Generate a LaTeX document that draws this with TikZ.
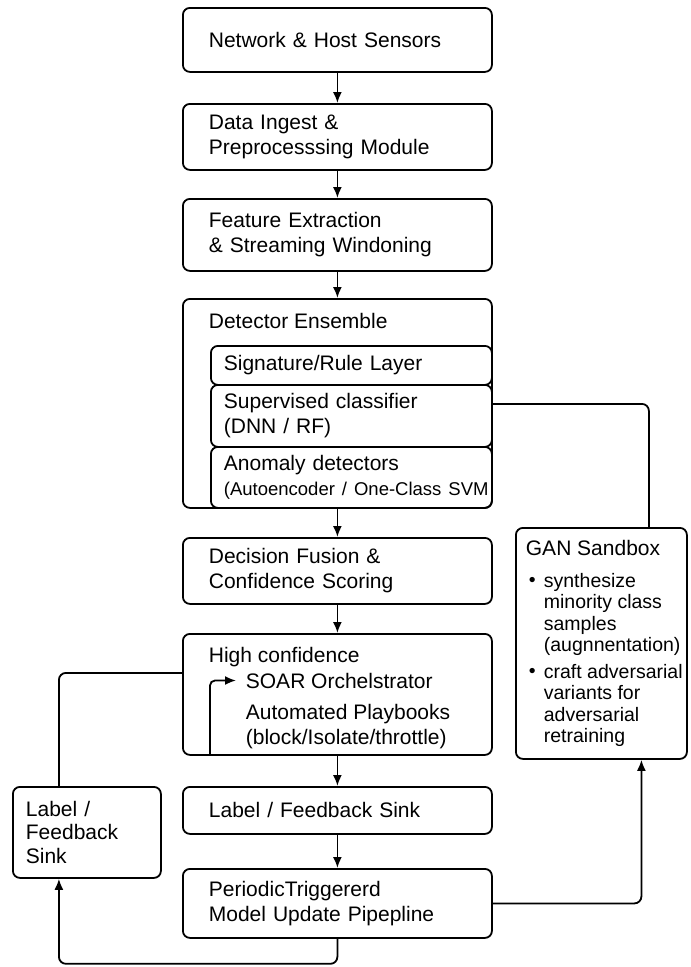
\documentclass[tikz,border=0pt]{standalone}
\usepackage{fontspec}
\setmainfont{Liberation Sans}
\usepackage{tikz}
\usetikzlibrary{arrows.meta,calc,positioning}
\tikzset{
	flow chart/.style={
		x=1pt, y=-1pt,
		line width=1.8pt,
		font=\fontsize{21}{25}\selectfont,
		ar/.style={-{Latex[length=11pt,width=9pt]}},
		txt/.style={inner sep=0pt, anchor=base west},
		item/.style={inner sep=0pt, anchor=north west, align=left,
			font=\fontsize{19.5}{21.5}\selectfont}
		},
	blk pad/.store in=\blkpad,
	blk pad=26pt,
	blk corners/.store in=\blkcorners,
	blk corners=7pt,
	blk/.code 2 args={
		\pgfmathsetlengthmacro{\blkwd}{#1-2*\blkpad}
		\edef\blkkeys{\noexpand\pgfkeysalso{draw, rounded corners=\blkcorners,
			anchor=north west, align=left, inner xsep=\blkpad, inner ysep=0pt,
			minimum width=#1, minimum height=#2, text width=\blkwd}}
		\blkkeys
	}
}

\begin{document}
\begin{tikzpicture}[flow chart]
		\useasboundingbox (0,0) rectangle (691,967);
		\node[blk={309pt}{64pt}] (sens) at (182,7) {Network \& Host Sensors};
		\node[blk={309pt}{66pt}] (ingest) at (182,103) {Data Ingest \&\\Preprocesssing Module};
		\node[blk={309pt}{72pt}] (feat) at (182,198) {Feature Extraction\\\& Streaming Windoning};
		\node[blk={309pt}{209pt}] (ens) at (182,298) {};
		\node[txt] (ens title) at (208,328) {Detector Ensemble};
		\node[blk pad=13pt, blk={281pt}{39pt}] (sig) at (210,345) {Signature/Rule Layer};
		\node[blk pad=13pt, blk={281pt}{62pt}] (sup) at (210,384) {Supervised classifier\\(DNN / RF)};
		\node[blk pad=13pt, blk={281pt}{61pt}] (anom) at (210,446)
			{Anomaly detectors\\\mbox{\fontsize{18.5}{21}\selectfont(Autoencoder / One-Class SVM}};
		\node[blk={309pt}{66pt}] (fuse) at (182,537) {Decision Fusion \&\\Confidence Scoring};
		\node[blk={309pt}{121pt}] (high) at (182,633) {};
		\node[txt] (high title) at (208,662) {High confidence};
		\node[txt] (soar) at (245,688) {SOAR Orchelstrator};
		\node[item, font=\fontsize{21}{25}\selectfont] (play) at (245,703) {Automated Playbooks\\(block/Isolate/throttle)};
		\node[blk={309pt}{47pt}] (sinkm) at (182,786) {Label / Feedback Sink};
		\node[blk={309pt}{69pt}] (upd) at (182,868) {PeriodicTriggererd\\Model Update Pipepline};
		\node[blk pad=13pt, blk={148pt}{91pt}, font=\fontsize{21}{23.5}\selectfont] (sinkl) at (12,786)
			{Label /\\Feedback\\Sink};
		\node[blk={171pt}{231pt}] (gan) at (515,527) {};
		\node[txt] (gan title) at (525,555) {GAN Sandbox};
		\node[txt, font=\fontsize{19.5}{21.5}\selectfont] (bul1) at (528,586) {\textbullet};
		\node[item] (gan1) at (543,572) {synthesize\\minority class\\samples\\(augnnentation)};
		\node[txt, font=\fontsize{19.5}{21.5}\selectfont] (bul2) at (528,677) {\textbullet};
		\node[item] (gan2) at (543,663) {craft adversarial\\variants for\\adversarial\\retraining};

		\draw[ar] (sens) -- (ingest);
		\draw[ar] (ingest) -- (feat);
		\draw[ar] (feat) -- (ens);
		\draw[ar] (ens) -- (fuse);
		\draw[ar] (fuse) -- (high);
		\draw[ar] (high) -- (sinkm);
		\draw[ar] (sinkm) -- (upd);
		\draw[rounded corners=7pt] ([yshift=12pt]sup.east) -| ([xshift=47.5pt]gan.north);
		\draw[ar, rounded corners=7pt] (upd.east) -| ([xshift=40pt]gan.south);
		\draw[rounded corners=7pt] ([yshift=21.5pt]high.west) -| ([xshift=-28pt]sinkl.north);
		\draw[ar, rounded corners=7pt] (upd.south) -- ++(0,25) -| ([xshift=-28pt]sinkl.south);
		\draw[ar, rounded corners=5pt, shorten >=9pt] ([xshift=28pt]high.south west) |- (soar.west);
	\end{tikzpicture}
\end{document}
